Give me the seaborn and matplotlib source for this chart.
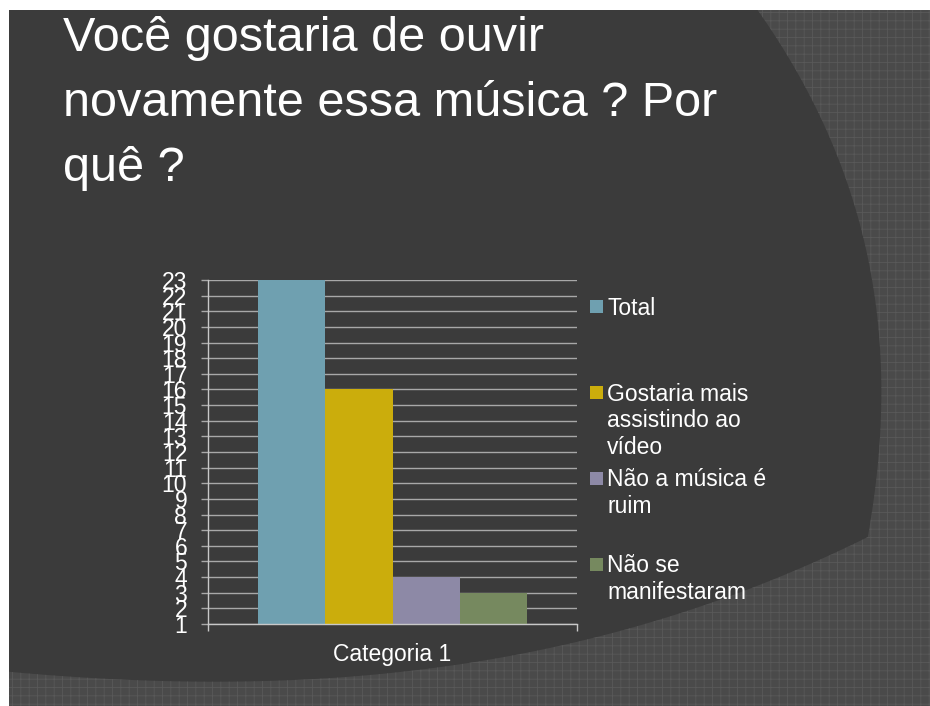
import numpy as np
import pandas as pd
import matplotlib
matplotlib.use("Agg")
import matplotlib.pyplot as plt
import seaborn as sns
from matplotlib.patches import Rectangle, Polygon
from matplotlib.ticker import FixedLocator

# ---------------- data ----------------
title_lines = ["Você gostaria de ouvir", "novamente essa música ? Por", "quê ?"]
categoria = ["Categoria 1"]
series = ["Total",
          "Gostaria mais\nassistindo ao\nvídeo",
          "Não a música é\nruim",
          "Não se\nmanifestaram"]
values = [23, 16, 4, 3]
colors = ["#6fa0b0", "#cbad0c", "#8d89a6", "#76895f"]
yticks = list(range(1, 24))

W, H = 930, 706
sns.set_theme(style="white")
plt.rcParams["font.family"] = ["Liberation Sans", "DejaVu Sans"]
plt.rcParams["hatch.linewidth"] = 0.6

fig = plt.figure(figsize=(W / 100, H / 100), dpi=100, facecolor="white")

# ---------------- slide background ----------------
bg = fig.add_axes([0, 0, 1, 1], zorder=0)
bg.set_xlim(0, W)
bg.set_ylim(H, 0)
bg.axis("off")
bg.add_patch(Rectangle((9, 10), W - 9, H - 10, facecolor="#3b3b3b", edgecolor="none"))

tex_face = "#4a4a4a"
tex_hatch = "#595959"
# right curved shape
ry = np.array([10, 87, 167, 287, 400, 450, 533, 620])
rx = np.array([757, 807, 840, 873, 882, 880, 867, 850])
cr = np.polyfit(ry, rx, 3)
yy = np.linspace(10, H, 200)
xx = np.polyval(cr, yy)
pts = np.column_stack([xx, yy]).tolist() + [[W, H], [W, 10]]
bg.add_patch(Polygon(pts, closed=True, facecolor=tex_face, edgecolor=tex_hatch,
                     linewidth=0, hatch="++"))
# bottom curved shape
bx = np.array([9, 200, 400, 500, 600, 865, 930])
by = np.array([673, 678, 673, 663, 633, 535, 507])
cb = np.polyfit(bx, by, 3)
xx2 = np.linspace(9, W, 200)
yy2 = np.polyval(cb, xx2)
pts2 = np.column_stack([xx2, yy2]).tolist() + [[W, H], [9, H]]
bg.add_patch(Polygon(pts2, closed=True, facecolor=tex_face, edgecolor=tex_hatch,
                     linewidth=0, hatch="++"))

# ---------------- chart ----------------
ax = fig.add_axes([208 / W, 1 - 624 / H, (577 - 208) / W, (624 - 280) / H], zorder=2)
ax.patch.set_alpha(0)
df = pd.DataFrame({"categoria": categoria * len(series), "serie": series, "valor": values})
sns.barplot(data=df, x="categoria", y="valor", hue="serie", hue_order=series,
            palette=colors, width=0.73, saturation=1, linewidth=0,
            legend=False, ax=ax)
ax.set_xlim(-0.5, 0.5)
ax.set_ylim(1, 23)
ax.set_yticks(yticks)
ax.set_yticklabels([str(t) for t in yticks])
ax.set_xlabel("")
ax.set_ylabel("")
ax.yaxis.grid(True, color="#a8a8a8", linewidth=1)
ax.xaxis.grid(False)
ax.set_axisbelow(True)
for s in ["top", "right"]:
    ax.spines[s].set_visible(False)
for s in ["left", "bottom"]:
    ax.spines[s].set_color("#c8c8c8")
    ax.spines[s].set_linewidth(1)
ax.tick_params(axis="y", which="major", length=5, width=1, color="#a8a8a8",
               labelcolor="white", labelsize=16.5, pad=10, left=True)
ax.tick_params(axis="x", which="major", length=0, labelcolor="white",
               labelsize=16.5, pad=13.5)
ax.xaxis.set_minor_locator(FixedLocator([-0.5, 0.5]))
ax.tick_params(axis="x", which="minor", length=5, width=1, color="#c8c8c8",
               direction="out", bottom=True)

# ---------------- overlay: title + legend ----------------
ov = fig.add_axes([0, 0, 1, 1], zorder=5)
ov.set_xlim(0, W)
ov.set_ylim(H, 0)
ov.axis("off")
ov.patch.set_alpha(0)

title_base = [51, 116, 181]
for line, yb in zip(title_lines, title_base):
    ov.text(63, yb, line, color="white", fontsize=35, va="baseline", ha="left")

sq_top = [300, 386, 472, 558]
line_base = [[315], [401, 427, 454], [486, 513], [572, 599]]
for lab, col, st, bases in zip(series, colors, sq_top, line_base):
    ov.add_patch(Rectangle((590, st), 13, 13, facecolor=col, edgecolor="none"))
    for txt, yb in zip(lab.split("\n"), bases):
        ov.text(607, yb, txt, color="white", fontsize=16.5, va="baseline", ha="left")

fig.savefig("out.png", dpi=100, facecolor="white")
